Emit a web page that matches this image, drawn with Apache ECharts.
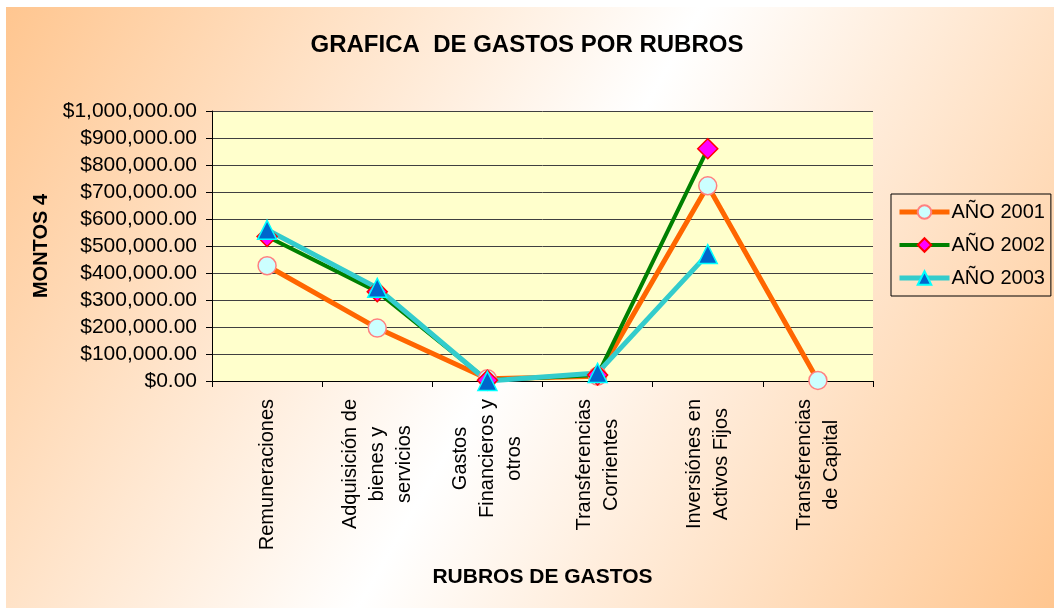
<!DOCTYPE html>
<html>
<head>
<meta charset="utf-8">
<script src="https://cdn.jsdelivr.net/npm/echarts@6/dist/echarts.min.js"></script>
<style>
  html, body { margin: 0; padding: 0; background: #fff; }
  #chart { width: 1054px; height: 608px; }
</style>
</head>
<body>
<div id="chart"></div>
<script>
const categories = [
  'Remuneraciones',
  'Adquisición de\nbienes y\nservicios',
  'Gastos\nFinancieros y\notros',
  'Transferencias\nCorrientes',
  'Inversiónes en\nActivos Fijos',
  'Transferencias\nde Capital',
];
const anio2001 = [427000, 196000, 8000, 18000, 723000, 2000];
const anio2002 = [535000, 331000, 3000, 22000, 860000, null];
const anio2003 = [560000, 345000, 0, 30000, 470000, null];
const yTicks = { min: 0, max: 1000000, interval: 100000 };

const FONT = 'Liberation Sans, Arial, sans-serif';

const money = (v) => {
  const s = Math.round(v).toString().replace(/\B(?=(\d{3})+(?!\d))/g, ',');
  return '$' + s + '.00';
};

const baseInfo = {
  'AÑO 2001': {
    data: anio2001,
    symbol: 'circle',
    symbolSize: 18,
    fill: '#CCFFFF',
    border: '#FF8080',
    line: '#FF6600',
    width: 5,
  },
  'AÑO 2002': {
    data: anio2002,
    symbol: 'diamond',
    symbolSize: 20,
    fill: '#FF00FF',
    border: '#FF0000',
    line: '#008000',
    width: 4,
  },
  'AÑO 2003': {
    data: anio2003,
    symbol: 'triangle',
    symbolSize: 19,
    fill: '#0066CC',
    border: '#00FFFF',
    line: '#33CCCC',
    width: 5,
  },
};

const series = Object.keys(baseInfo).map((name) => {
  const s = baseInfo[name];
  return {
    name,
    type: 'line',
    symbol: s.symbol,
    symbolSize: s.symbolSize,
    showAllSymbol: true,
    connectNulls: false,
    itemStyle: { color: s.fill, borderColor: s.border, borderWidth: 1.5 },
    lineStyle: { color: s.line, width: s.width },
    emphasis: { disabled: true },
    data: s.data,
  };
});

const legendData = Object.keys(baseInfo).map((name) => ({
  name,
  lineStyle: { width: baseInfo[name].width, color: baseInfo[name].line },
}));

const option = {
  animation: false,
  textStyle: { fontFamily: FONT },
  graphic: [{
    type: 'rect',
    z: -10,
    shape: { x: 6, y: 7, width: 1048, height: 601 },
    style: {
      fill: new echarts.graphic.LinearGradient(0, 0, 1, 1, [
        { offset: 0, color: '#FFC690' },
        { offset: 0.5, color: '#FFFFFF' },
        { offset: 1, color: '#FFC690' },
      ]),
    },
  }],
  title: {
    text: 'GRAFICA  DE GASTOS POR RUBROS',
    left: 'center',
    top: 28,
    textStyle: { fontFamily: FONT, fontSize: 24, fontWeight: 'bold', color: '#000' },
  },
  legend: {
    orient: 'vertical',
    left: 891,
    top: 194,
    width: 162,
    padding: [8, 6, 8, 6],
    itemGap: 13,
    itemWidth: 50,
    itemHeight: 17,
    borderColor: '#000',
    borderWidth: 1,
    selectedMode: false,
    textStyle: { fontFamily: FONT, fontSize: 20, color: '#000', padding: [0, 0, 0, -3] },
    data: legendData,
  },
  grid: {
    left: 212,
    right: 181,
    top: 111,
    bottom: 227,
    show: true,
    backgroundColor: '#FFFFCC',
    borderWidth: 0,
  },
  xAxis: {
    type: 'category',
    data: categories,
    boundaryGap: true,
    name: 'RUBROS DE GASTOS',
    nameLocation: 'middle',
    nameGap: 186,
    nameTextStyle: { fontFamily: FONT, fontSize: 21, fontWeight: 'bold', color: '#000' },
    axisLine: { show: true, lineStyle: { color: '#000', width: 1 } },
    axisTick: { show: true, alignWithLabel: false, length: 6, lineStyle: { color: '#000' } },
    axisLabel: {
      interval: 0,
      rotate: 90,
      margin: 18,
      color: '#000',
      fontFamily: FONT,
      fontSize: 20,
      formatter: (v) => v.split('\n').map((l) => '{c|' + l + '}').join('\n'),
      rich: {
        c: { align: 'center', fontFamily: FONT, fontSize: 20, color: '#000', lineHeight: 27 },
      },
    },
  },
  yAxis: {
    type: 'value',
    min: yTicks.min,
    max: yTicks.max,
    interval: yTicks.interval,
    name: 'MONTOS 4',
    nameLocation: 'middle',
    nameGap: 160,
    nameRotate: 90,
    nameTextStyle: { fontFamily: FONT, fontSize: 20, fontWeight: 'bold', color: '#000' },
    axisLine: { show: true, lineStyle: { color: '#000', width: 1 } },
    axisTick: { show: true, length: 6, lineStyle: { color: '#000' } },
    axisLabel: {
      margin: 15,
      color: '#000',
      fontFamily: FONT,
      fontSize: 21,
      formatter: money,
    },
    splitLine: { show: true, lineStyle: { color: '#404040', width: 1 } },
  },
  series,
};

const myChart = echarts.init(document.getElementById('chart'));
myChart.setOption(option);
</script>
</body>
</html>
